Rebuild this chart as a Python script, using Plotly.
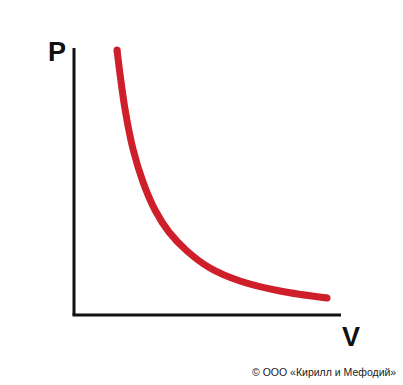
import plotly.graph_objects as go

# Isotherm (Boyle-Mariotte), arbitrary units
volume = [4.3, 5.1, 5.9, 6.9, 8.1, 9.5, 11.3, 13.6, 16.6, 20.6, 25.3]
pressure = [26.5, 20.6, 16.6, 13.3, 10.5, 8.3, 6.4, 4.7, 3.4, 2.4, 1.7]
axis_len_v = 26.7
axis_len_p = 26.7
x_label = "V"
y_label = "P"
credit = "© ООО «Кирилл и Мефодий»"

fig = go.Figure()
fig.add_trace(go.Scatter(
    x=volume, y=pressure, mode="lines",
    line=dict(color="#cf1f2b", width=7, shape="spline", smoothing=1.0),
    hoverinfo="skip", showlegend=False,
))
# rounded ends of the stroke
fig.add_trace(go.Scatter(
    x=[volume[0], volume[-1]], y=[pressure[0], pressure[-1]], mode="markers",
    marker=dict(color="#cf1f2b", size=7, line=dict(width=0)),
    hoverinfo="skip", showlegend=False,
))

# axes
fig.add_shape(type="line", x0=0, y0=0, x1=0, y1=axis_len_p,
              line=dict(color="#111111", width=3), layer="below")
fig.add_shape(type="line", x0=-0.15, y0=0, x1=axis_len_v, y1=0,
              line=dict(color="#111111", width=3), layer="below")

fig.add_annotation(x=-1.7, y=26.3, text=f"<b>{y_label}</b>", showarrow=False,
                   font=dict(family="Liberation Sans, Arial", size=27, color="#111111"))
fig.add_annotation(x=27.7, y=-2.2, text=f"<b>{x_label}</b>", showarrow=False,
                   font=dict(family="Liberation Sans, Arial", size=27, color="#111111"))
fig.add_annotation(x=398 / 403, y=1 - 372 / 385, xref="paper", yref="paper", text=credit,
                   showarrow=False, xanchor="right", yanchor="middle",
                   font=dict(family="Liberation Sans, Arial", size=10.5, color="#222222"))

fig.update_layout(
    width=403, height=385,
    margin=dict(l=0, r=0, t=0, b=0),
    paper_bgcolor="white", plot_bgcolor="white",
    xaxis=dict(range=[-7.4, 32.9], visible=False, fixedrange=True),
    yaxis=dict(range=[-7.0, 31.5], visible=False, fixedrange=True),
)

fig.write_html("out.html")
